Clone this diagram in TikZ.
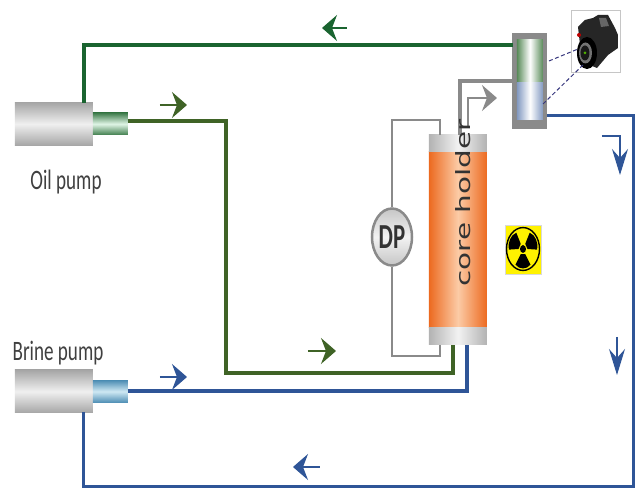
\documentclass[tikz,border=0pt]{standalone}
\usepackage{fontspec}
\setmainfont{Carlito}
\newfontfamily\wideface{DejaVu Sans}
\usetikzlibrary{arrows.meta,shapes.geometric}
\def\px{0.2mm}
\definecolor{oilgreen}{HTML}{3F6326}
\definecolor{topgreen}{HTML}{1A6430}
\definecolor{brineblue}{HTML}{2F5597}
\definecolor{pipegray}{HTML}{8A8A8A}
\definecolor{labelgray}{HTML}{404040}
\definecolor{coreorange}{HTML}{EC6A20}
\definecolor{corepeach}{HTML}{FCCBA6}
\definecolor{nozzlegreen}{HTML}{3F7D4C}
\definecolor{nozzlepale}{HTML}{E0F5E6}
\definecolor{nozzleblue}{HTML}{4F8FB5}
\definecolor{nozzlesky}{HTML}{CFE8F3}
\tikzset{
	block/.style={inner sep=0pt, outer sep=0pt, rectangle},
	pumpbody/.style={block, minimum width=78*\px, minimum height=43*\px, top color=gray!70, bottom color=gray!70, middle color=gray!12},
	oilnozzle/.style={block, minimum width=35*\px, minimum height=22*\px, top color=nozzlegreen, bottom color=nozzlegreen, middle color=nozzlepale},
	brinenozzle/.style={block, minimum width=35*\px, minimum height=22*\px, top color=nozzleblue, bottom color=nozzleblue, middle color=nozzlesky},
	corecap/.style={block, minimum width=58*\px, minimum height=17*\px, left color=gray!60, right color=gray!60, middle color=gray!10},
	pipelabel/.style={font=\fontsize{16}{16}\selectfont, text=labelgray, xscale=.68},
	oilpipe/.style={draw=oilgreen, line width=4*\px},
	brinepipe/.style={draw=brineblue, line width=4*\px},
	returnpipe/.style={draw=brineblue, line width=3*\px},
	topline/.style={draw=topgreen, line width=4*\px},
	sensorline/.style={draw=pipegray, line width=2.5*\px},
	flowH/.style={draw=#1, line width=1.2*\px, -{Stealth[length=15*\px, width=26*\px, inset=5*\px, color=#1]}},
	flowV/.style={draw=#1, line width=1.2*\px, -{Stealth[length=26*\px, width=16*\px, inset=9*\px, color=#1]}},
	camline/.style={draw=gray!60!blue!70!black, line width=1*\px, dash pattern=on 4*\px off 2.5*\px},
}
\begin{document}
\begin{tikzpicture}[x=0.2mm, y=-0.2mm]
	\useasboundingbox[fill=white] (0,0) rectangle (638,489);
	% pumps
	\node[pumpbody] (oilpump) at (54,124) {};
	\node[oilnozzle, anchor=west] (oilout) at (oilpump.east) {};
	\node[pumpbody] (brinepump) at (54,391.5) {};
	\node[brinenozzle, anchor=west] (brineout) at (brinepump.east) {};
	\node[pipelabel] (oillabel) at (66,182) {Oil pump};
	\node[pipelabel] (brinelabel) at (58,353) {Brine pump};
	% core holder
	\node[block, minimum width=58*\px, minimum height=176*\px, left color=coreorange, right color=coreorange, middle color=corepeach] (core) at (458,240) {};
	\node[corecap, anchor=south] (coretop) at (core.north) {};
	\node[corecap, anchor=north] (corebottom) at (core.south) {};
	% separator
	\node[block, minimum width=35*\px, minimum height=96*\px, fill=pipegray] (separator) at (529.5,81) {};
	\node[block, minimum width=26*\px, minimum height=43*\px, left color=green!30!black!65, right color=green!30!black!65, middle color=white] (tubeoil) at (530,61.5) {};
	\node[block, minimum width=26*\px, minimum height=37*\px, left color=brineblue!60, right color=brineblue!60, middle color=white] (tubebrine) at (530,101.5) {};
	% pipes
	\coordinate (oilstart) at (128,121);
	\coordinate (oilbendA) at (226,121);
	\coordinate (oilbendB) at (226,373);
	\coordinate (oilbendC) at (453,373);
	\coordinate (oilend) at (453,345);
	\draw[oilpipe] (oilstart) -- (oilbendA) -- (oilbendB) -- (oilbendC) -- (oilend);
	\coordinate (brinebend) at (467,391.5);
	\coordinate (brineend) at (467,345);
	\draw[brinepipe] (brineout.east) -- (brinebend) -- (brineend);
	\coordinate (topstart) at (84,103);
	\coordinate (topbend) at (84,45);
	\coordinate (topend) at (513,45);
	\draw[topline] (topstart) -- (topbend) -- (topend);
	\coordinate (retstart) at (547,116);
	\coordinate (retA) at (634,116);
	\coordinate (retB) at (634,487);
	\coordinate (retC) at (84,487);
	\coordinate (retend) at (84,412);
	\draw[returnpipe] (retstart) -- (retA) -- (retB) -- (retC) -- (retend);
	\coordinate (outA) at (460,135);
	\coordinate (outB) at (460,81);
	\coordinate (outC) at (513,81);
	\draw[draw=pipegray, line width=4*\px] (outA) -- (outB) -- (outC);
	% dp gauge
	\node[ellipse, draw=pipegray, line width=2.5*\px, inner sep=0pt, minimum width=40*\px, minimum height=57*\px, top color=gray!45, bottom color=gray!45, middle color=gray!10] (dp) at (392,237) {};
	\node[font=\fontsize{20}{20}\selectfont\bfseries, text=labelgray!80!black, xscale=.65] (dplabel) at (392,237) {DP};
	\coordinate (dpA) at (392,120);
	\coordinate (dpB) at (440,120);
	\coordinate (dpC) at (440,135);
	\draw[sensorline] (dp.north) -- (dpA) -- (dpB) -- (dpC);
	\coordinate (dpD) at (392,356);
	\coordinate (dpE) at (440,356);
	\coordinate (dpF) at (440,345);
	\draw[sensorline] (dp.south) -- (dpD) -- (dpE) -- (dpF);
	% flow arrows
	\coordinate (fa) at (347,28); \coordinate (fb) at (322,28);
	\draw[flowH=topgreen] (fa) -- (fb);
	\coordinate (fc) at (160,105); \coordinate (fd) at (187,105);
	\draw[flowH=oilgreen] (fc) -- (fd);
	\coordinate (fe) at (308,351); \coordinate (ff) at (336,351);
	\draw[flowH=oilgreen] (fe) -- (ff);
	\coordinate (fg) at (160,377); \coordinate (fh) at (187,377);
	\draw[flowH=brineblue] (fg) -- (fh);
	\coordinate (fi) at (320,467); \coordinate (fj) at (293,467);
	\draw[flowH=brineblue] (fi) -- (fj);
	\coordinate (fk) at (602,136); \coordinate (fl) at (620,136); \coordinate (fm) at (620,175);
	\draw[flowV=brineblue] (fk) -- (fl) -- (fm);
	\coordinate (fn) at (617,337); \coordinate (fo) at (617,375);
	\draw[flowV=brineblue] (fn) -- (fo);
	\coordinate (fp) at (468,128); \coordinate (fq) at (468,98); \coordinate (fr) at (497,98);
	\draw[draw=pipegray, line width=1.5*\px, -{Stealth[length=15*\px, width=26*\px, inset=5*\px, color=pipegray]}] (fp) -- (fq) -- (fr);
	\node[font=\wideface\fontsize{11.2}{11.2}\selectfont, text=labelgray!80!black, rotate=90, xscale=1.5] (corelabel) at (463,203) {core holder};
	% radiation sign
	\node[block, minimum width=36*\px, minimum height=49*\px, fill=yellow, draw=gray!30, line width=.7*\px] (radsign) at (523,249.5) {};
	\begin{scope}[shift={(523,249)}, yscale=1.3]
		\draw[line width=1.4*\px] (0,0) circle [radius=16.5*\px];
		\fill (0,0) circle [radius=3*\px];
		\foreach \ang in {90,210,330}
			\fill (\ang-30:4.5) -- (\ang-32:14.2) -- (\ang-16:14.8) -- (\ang:15) -- (\ang+16:14.8) -- (\ang+32:14.2) -- (\ang+30:4.5) -- cycle;
	\end{scope}
	% camera
	\node[block, minimum width=49*\px, minimum height=62*\px, draw=gray!45, line width=.8*\px, fill=white] (camerabox) at (596,41.5) {};
	\fill[black!85] (578,27) -- (585,20) -- (593,18) -- (598,15) -- (608,15) -- (615,28) -- (618,35) -- (618,48) -- (608,55) -- (597,68) -- (582,62) -- cycle;
	\fill[black!60] (599,18) -- (606,18) -- (609,26) -- (601,27) -- cycle;
	\fill[black] (587,53) ellipse [x radius=10*\px, y radius=16*\px];
	\fill[black!55] (585.5,53) ellipse [x radius=6.5*\px, y radius=10.5*\px];
	\fill[black!90] (585,53) ellipse [x radius=4.5*\px, y radius=7.5*\px];
	\fill[green!55!yellow!70!black] (585,53) circle [radius=1.5*\px];
	\fill[red!75!black] (579,35) circle [radius=2*\px];
	\coordinate (camA) at (549,61); \coordinate (camB) at (578,49);
	\draw[camline] (camA) -- (camB);
	\coordinate (camC) at (543,104); \coordinate (camD) at (583,65);
	\draw[camline] (camC) -- (camD);
\end{tikzpicture}
\end{document}
